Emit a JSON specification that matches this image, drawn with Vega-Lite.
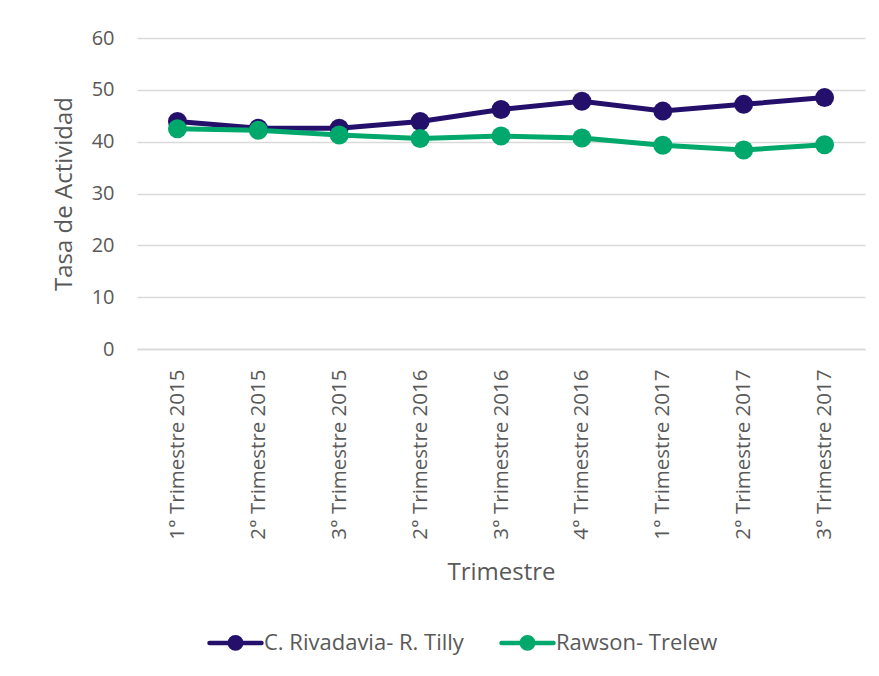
{
  "$schema": "https://vega.github.io/schema/vega-lite/v6.json",
  "width": 728,
  "height": 311,
  "autosize": {"type": "none"},
  "padding": {"left": 137, "top": 38, "right": 14, "bottom": 327},
  "background": "white",
  "data": {
    "values": [
      {"t": "1° Trimestre 2015", "serie": "C. Rivadavia- R. Tilly", "v": 43.9},
      {"t": "2° Trimestre 2015", "serie": "C. Rivadavia- R. Tilly", "v": 42.6},
      {"t": "3° Trimestre 2015", "serie": "C. Rivadavia- R. Tilly", "v": 42.6},
      {"t": "2° Trimestre 2016", "serie": "C. Rivadavia- R. Tilly", "v": 43.9},
      {"t": "3° Trimestre 2016", "serie": "C. Rivadavia- R. Tilly", "v": 46.2},
      {"t": "4° Trimestre 2016", "serie": "C. Rivadavia- R. Tilly", "v": 47.8},
      {"t": "1° Trimestre 2017", "serie": "C. Rivadavia- R. Tilly", "v": 45.9},
      {"t": "2° Trimestre 2017", "serie": "C. Rivadavia- R. Tilly", "v": 47.2},
      {"t": "3° Trimestre 2017", "serie": "C. Rivadavia- R. Tilly", "v": 48.5},
      {"t": "1° Trimestre 2015", "serie": "Rawson- Trelew", "v": 42.5},
      {"t": "2° Trimestre 2015", "serie": "Rawson- Trelew", "v": 42.2},
      {"t": "3° Trimestre 2015", "serie": "Rawson- Trelew", "v": 41.3},
      {"t": "2° Trimestre 2016", "serie": "Rawson- Trelew", "v": 40.6},
      {"t": "3° Trimestre 2016", "serie": "Rawson- Trelew", "v": 41.1},
      {"t": "4° Trimestre 2016", "serie": "Rawson- Trelew", "v": 40.7},
      {"t": "1° Trimestre 2017", "serie": "Rawson- Trelew", "v": 39.3},
      {"t": "2° Trimestre 2017", "serie": "Rawson- Trelew", "v": 38.4},
      {"t": "3° Trimestre 2017", "serie": "Rawson- Trelew", "v": 39.4}
    ]
  },
  "mark": {
    "type": "line",
    "strokeWidth": 5,
    "point": {"filled": true, "size": 360, "opacity": 1}
  },
  "encoding": {
    "x": {
      "field": "t",
      "type": "nominal",
      "sort": null,
      "scale": {"type": "point", "padding": 0.5},
      "axis": {
        "title": "Trimestre",
        "labelAngle": -90,
        "labelPadding": 20,
        "labelFontSize": 20.5,
        "ticks": false,
        "domain": true,
        "domainColor": "#D9D9D9",
        "domainWidth": 1.5,
        "grid": false,
        "titlePadding": 21
      }
    },
    "y": {
      "field": "v",
      "type": "quantitative",
      "scale": {"domain": [0, 60], "nice": false},
      "axis": {
        "title": "Tasa de Actividad",
        "values": [0, 10, 20, 30, 40, 50, 60],
        "ticks": false,
        "domain": false,
        "labelFontSize": 20,
        "labelPadding": 23,
        "titlePadding": 15,
        "gridColor": "#D9D9D9",
        "gridWidth": 1.5
      }
    },
    "color": {
      "field": "serie",
      "type": "nominal",
      "scale": {
        "domain": ["C. Rivadavia- R. Tilly", "Rawson- Trelew"],
        "range": ["#24106B", "#00A96B"]
      },
      "legend": {
        "title": null,
        "orient": "none",
        "legendX": 70,
        "legendY": 576,
        "direction": "horizontal",
        "symbolType": "M-1,0L1,0M-0.22,0A0.22,0.22,0,1,0,0.22,0A0.22,0.22,0,1,0,-0.22,0Z",
        "symbolSize": 2704,
        "symbolStrokeWidth": 4.5,
        "labelOffset": 0,
        "columnPadding": 28,
        "labelFontSize": 22,
        "labelLimit": 400,
        "labelColor": "#595959",
        "labelFont": "Open Sans",
        "encode": {
          "symbols": {
            "update": {
              "fill": {"field": "value", "scale": "color"},
              "stroke": {"field": "value", "scale": "color"},
              "fillOpacity": {"value": 1},
              "strokeCap": {"value": "round"}
            }
          }
        }
      }
    }
  },
  "config": {
    "view": {"stroke": null},
    "font": "Open Sans",
    "axis": {
      "labelFont": "Open Sans",
      "titleFont": "Open Sans",
      "titleFontSize": 24,
      "labelColor": "#595959",
      "titleColor": "#595959",
      "titleFontWeight": "normal"
    }
  }
}
